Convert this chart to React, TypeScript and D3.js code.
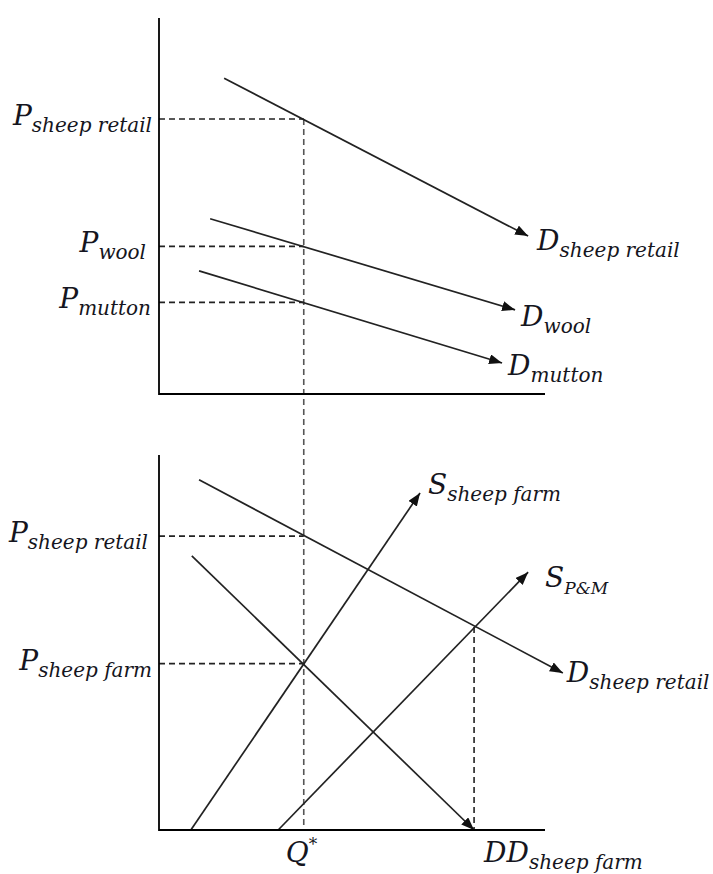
import React from "react";
import * as d3 from "d3";

const W = 713;
const H = 874;

// Shared quantity domain and price domain (schematic units)
const qDomain: [number, number] = [0, 8];
const pDomain: [number, number] = [0, 8];

const qStar = 3.0;
const qDD = 6.53;

// Top panel: demand curves (start/end in quantity, price)
const topNames = ["sheep retail", "wool", "mutton"];
const topQ0 = [1.35, 1.06, 0.83];
const topP0 = [6.72, 3.73, 2.62];
const topQ1 = [7.65, 7.38, 7.11];
const topP1 = [3.36, 1.79, 0.66];
const topPrices = [5.85, 3.14, 1.95];

// Bottom panel curves
const botNames = ["D sheep retail", "DD sheep farm", "S sheep farm", "S P&M"];
const botQ0 = [0.83, 0.68, 0.66, 2.47];
const botP0 = [7.47, 5.85, 0, 0];
const botQ1 = [8.37, 6.53, 5.41, 7.65];
const botP1 = [3.35, 0, 7.19, 5.5];
const botPrices = [6.27, 3.55];
const ddPrice = 4.33;

const font = "DejaVu Serif";
const ink = "#151520";

function Lbl({ x, y, main, sub, anchor = "start", mainSize = 28, subSize = 20, dy = 7 }: any) {
  return (
    <text x={x} y={y} textAnchor={anchor} fontFamily={font} fontStyle="italic" fill={ink}>
      <tspan fontSize={mainSize}>{main}</tspan>
      <tspan fontSize={subSize} dy={dy}>{sub}</tspan>
    </text>
  );
}

export default function App() {
  const x = d3.scaleLinear().domain(qDomain).range([159, 545]);
  const yTop = d3.scaleLinear().domain(pDomain).range([394, 18]);
  const yBot = d3.scaleLinear().domain(pDomain).range([830, 455]);
  const line = d3.line<[number, number]>();

  const solid = { stroke: "#222", strokeWidth: 1.7, fill: "none" };
  const dashed = { stroke: "#222", strokeWidth: 1.6, strokeDasharray: "6,4", fill: "none" };

  const topLabelOff = [
    [9, 14],
    [6, 16],
    [6, 12],
  ];
  const topPriceLbls = [
    { main: "P", sub: "sheep retail", xr: 152 },
    { main: "P", sub: "wool", xr: 146 },
    { main: "P", sub: "mutton", xr: 151 },
  ];

  return (
    <svg width={W} height={H} style={{ position: "absolute", left: 0, top: 0 }}>
      <defs>
        <marker id="arr" markerUnits="userSpaceOnUse" markerWidth={13} markerHeight={10}
          refX={13} refY={5} orient="auto">
          <path d="M0,0 L13,5 L0,10 z" fill="#111" />
        </marker>
      </defs>
      <rect width={W} height={H} fill="#fff" />

      {/* vertical dashed Q* through both panels */}
      <path {...dashed} stroke="#555" d={line([[x(qStar), yTop(topPrices[0])], [x(qStar), yBot(0)]]) || ""} />

      {/* top panel */}
      {topPrices.map((p, i) => (
        <path key={"tpd" + i} {...dashed} d={line([[x(0), yTop(p)], [x(qStar), yTop(p)]]) || ""} />
      ))}
      {topNames.map((n, i) => (
        <path key={"tc" + i} {...solid} markerEnd="url(#arr)"
          d={line([[x(topQ0[i]), yTop(topP0[i])], [x(topQ1[i]), yTop(topP1[i])]]) || ""} />
      ))}
      <path stroke="#000" strokeWidth={1.8} fill="none"
        d={line([[x(0), yTop(8)], [x(0), yTop(0)], [x(8), yTop(0)]]) || ""} />
      {topNames.map((n, i) => (
        <Lbl key={"tl" + i} x={x(topQ1[i]) + topLabelOff[i][0]} y={yTop(topP1[i]) + topLabelOff[i][1]}
          main="D" sub={n} />
      ))}
      {topPriceLbls.map((l, i) => (
        <Lbl key={"tpl" + i} x={l.xr} y={yTop(topPrices[i]) + 6} main={l.main} sub={l.sub} anchor="end" />
      ))}

      {/* bottom panel */}
      {botPrices.map((p, i) => (
        <path key={"bpd" + i} {...dashed} d={line([[x(0), yBot(p)], [x(qStar), yBot(p)]]) || ""} />
      ))}
      <path {...dashed} d={line([[x(qDD), yBot(ddPrice)], [x(qDD), yBot(0)]]) || ""} />
      {botNames.map((n, i) => (
        <path key={"bc" + i} {...solid} markerEnd="url(#arr)"
          d={line([[x(botQ0[i]), yBot(botP0[i])], [x(botQ1[i]), yBot(botP1[i])]]) || ""} />
      ))}
      <path stroke="#000" strokeWidth={1.8} fill="none"
        d={line([[x(0), yBot(8)], [x(0), yBot(0)], [x(8), yBot(0)]]) || ""} />

      <Lbl x={148} y={yBot(botPrices[0]) + 6} main="P" sub="sheep retail" anchor="end" />
      <Lbl x={152} y={yBot(botPrices[1]) + 6} main="P" sub="sheep farm" anchor="end" />
      <Lbl x={x(botQ1[2]) + 8} y={yBot(botP1[2]) + 1} main="S" sub="sheep farm" />
      <Lbl x={x(botQ1[3]) + 17} y={yBot(botP1[3]) + 15} main="S" sub="P&M" subSize={17} />
      <Lbl x={x(botQ1[0]) + 4} y={yBot(botP1[0]) + 9} main="D" sub="sheep retail" />

      <text x={x(qStar) - 18} y={862} fontFamily={font} fontStyle="italic" fill={ink}>
        <tspan fontSize={28}>Q</tspan>
        <tspan fontSize={17} dy={-12}>*</tspan>
      </text>
      <Lbl x={x(qDD) + 10} y={862} main="DD" sub="sheep farm" />
    </svg>
  );
}
